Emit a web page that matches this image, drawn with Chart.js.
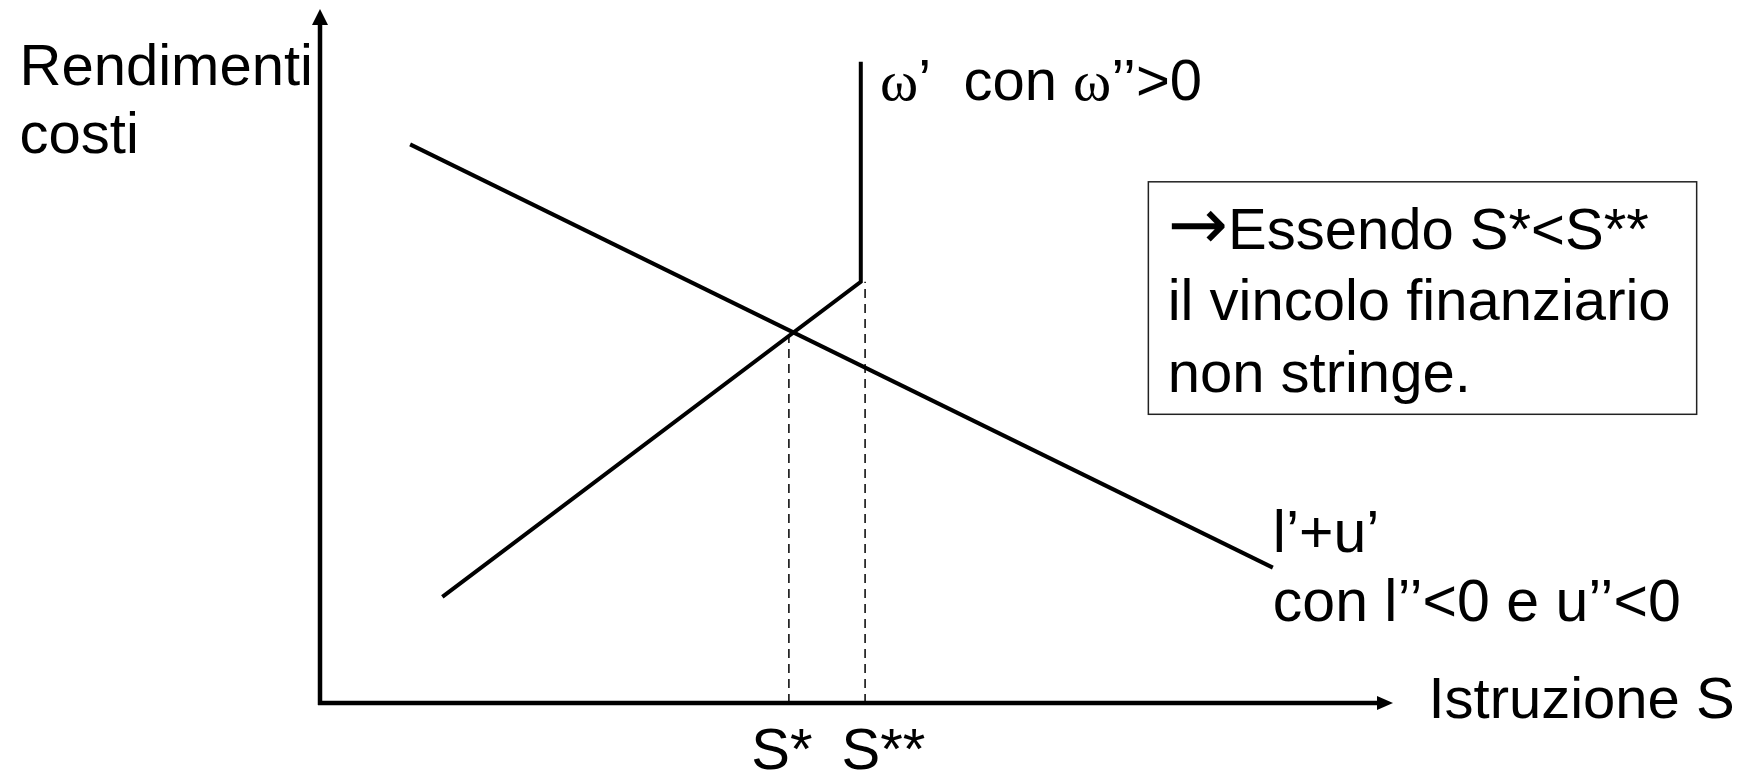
<!DOCTYPE html>
<html>
<head>
<meta charset="utf-8">
<script src="https://cdn.jsdelivr.net/npm/chart.js@4.4.1/dist/chart.umd.min.js"></script>
<style>
  html, body { margin: 0; padding: 0; background: #ffffff; }
  #wrap { width: 1742px; height: 772px; }
</style>
</head>
<body>
<div id="wrap"><canvas id="c" width="1742" height="772"></canvas></div>
<script>
// ---- Data (axis units 0..100 on both axes) ----
const benefitX = [8.4, 88.8];          // l'+u' (decreasing)
const benefitY = [80.5, 19.5];
const costX = [11.4, 50.4, 50.4];      // omega' (rising, then vertical)
const costY = [15.3, 60.7, 92.4];
const sStar = 43.7;                    // S*
const sStarY = 53.3;                   // height of intersection
const sStarStar = 50.8;                // S**
const sStarStarY = 60.7;

const axisMin = 0, axisMax = 100;

// Text labels: [text parts, x, y] (data coords, left / baseline)
const FONT = "58px 'Liberation Sans', Arial, sans-serif";
const FONT2 = "59px 'Liberation Sans', Arial, sans-serif";
const SERIF = "58px 'Liberation Serif', 'Times New Roman', serif";
const ARROWF = "72px 'DejaVu Sans', sans-serif";
const labels = [
  { parts: [["Rendimenti", FONT]], x: -28.0, y: 89.0 },
  { parts: [["costi", FONT]], x: -28.0, y: 79.3 },
  { parts: [["\u03C9", SERIF], ["\u2019  con ", FONT], ["\u03C9", SERIF], ["\u2019\u2019>0", FONT]], x: 52.2, y: 86.9 },
  { parts: [["\u2192", ARROWF], ["Essendo S*<S**", FONT]], x: 79.0, y: 65.4 },
  { parts: [["il vincolo finanziario", FONT]], x: 79.0, y: 55.2 },
  { parts: [["non stringe.", FONT]], x: 79.0, y: 44.8 },
  { parts: [["l\u2019+u\u2019", FONT2]], x: 88.8, y: 21.8 },
  { parts: [["con l\u2019\u2019<0 e u\u2019\u2019<0", FONT2]], x: 88.8, y: 11.8 },
  { parts: [["Istruzione S", FONT]], x: 103.3, y: -2.2 },
  { parts: [["S*", FONT]], x: 40.2, y: -9.5 },
  { parts: [["S**", FONT]], x: 48.6, y: -9.5 }
];
const noteBox = { x0: 77.2, x1: 128.3, y0: 75.1, y1: 41.6 };

function pts(xs, ys) { return xs.map((x, i) => ({ x: x, y: ys[i] })); }

const decor = {
  id: 'decor',
  beforeDatasetsDraw(chart) {
    const ctx = chart.ctx;
    const xs = chart.scales.x, ys = chart.scales.y;
    const ox = xs.getPixelForValue(axisMin), oy = ys.getPixelForValue(axisMin);
    const xEnd = xs.getPixelForValue(axisMax), yEnd = ys.getPixelForValue(axisMax);
    ctx.save();
    ctx.strokeStyle = '#000'; ctx.fillStyle = '#000';
    ctx.lineWidth = 4.5; ctx.lineCap = 'butt';
    // y axis
    ctx.beginPath(); ctx.moveTo(ox, oy + 2); ctx.lineTo(ox, yEnd + 12); ctx.stroke();
    ctx.beginPath(); ctx.moveTo(ox, yEnd); ctx.lineTo(ox - 8, yEnd + 16); ctx.lineTo(ox + 8, yEnd + 16); ctx.closePath(); ctx.fill();
    // x axis
    ctx.beginPath(); ctx.moveTo(ox - 2, oy); ctx.lineTo(xEnd - 12, oy); ctx.stroke();
    ctx.beginPath(); ctx.moveTo(xEnd, oy); ctx.lineTo(xEnd - 16, oy - 7); ctx.lineTo(xEnd - 16, oy + 7); ctx.closePath(); ctx.fill();
    ctx.restore();
  },
  afterDraw(chart) {
    const ctx = chart.ctx;
    const xs = chart.scales.x, ys = chart.scales.y;
    ctx.save();
    // note box
    const bx0 = xs.getPixelForValue(noteBox.x0), bx1 = xs.getPixelForValue(noteBox.x1);
    const by0 = ys.getPixelForValue(noteBox.y0), by1 = ys.getPixelForValue(noteBox.y1);
    ctx.strokeStyle = '#222'; ctx.lineWidth = 1.5;
    ctx.strokeRect(bx0, by0, bx1 - bx0, by1 - by0);
    // labels
    ctx.fillStyle = '#000';
    ctx.textBaseline = 'alphabetic'; ctx.textAlign = 'left';
    labels.forEach(l => {
      let px = xs.getPixelForValue(l.x);
      const py = ys.getPixelForValue(l.y);
      l.parts.forEach(([t, f]) => {
        ctx.font = f;
        ctx.fillText(t, px, py);
        px += ctx.measureText(t).width;
      });
    });
    ctx.restore();
  }
};

new Chart(document.getElementById('c'), {
  type: 'scatter',
  data: {
    datasets: [
      { label: "l'+u'", data: pts(benefitX, benefitY), showLine: true, borderColor: '#000', borderWidth: 4, pointRadius: 0, tension: 0 },
      { label: "omega'", data: pts(costX, costY), showLine: true, borderColor: '#000', borderWidth: 4, pointRadius: 0, tension: 0, borderJoinStyle: 'miter' },
      { label: 'S*', data: [{ x: sStar, y: axisMin }, { x: sStar, y: sStarY }], showLine: true, borderColor: '#000', borderWidth: 1.5, borderDash: [9, 6], pointRadius: 0 },
      { label: 'S**', data: [{ x: sStarStar, y: axisMin }, { x: sStarStar, y: sStarStarY }], showLine: true, borderColor: '#000', borderWidth: 1.5, borderDash: [9, 6], pointRadius: 0 }
    ]
  },
  options: {
    responsive: false,
    animation: false,
    devicePixelRatio: 1,
    layout: { padding: { left: 320, right: 349, top: 9, bottom: 69 } },
    plugins: { legend: { display: false }, tooltip: { enabled: false } },
    scales: {
      x: { type: 'linear', min: axisMin, max: axisMax, display: false },
      y: { type: 'linear', min: axisMin, max: axisMax, display: false }
    }
  },
  plugins: [decor]
});
</script>
</body>
</html>
